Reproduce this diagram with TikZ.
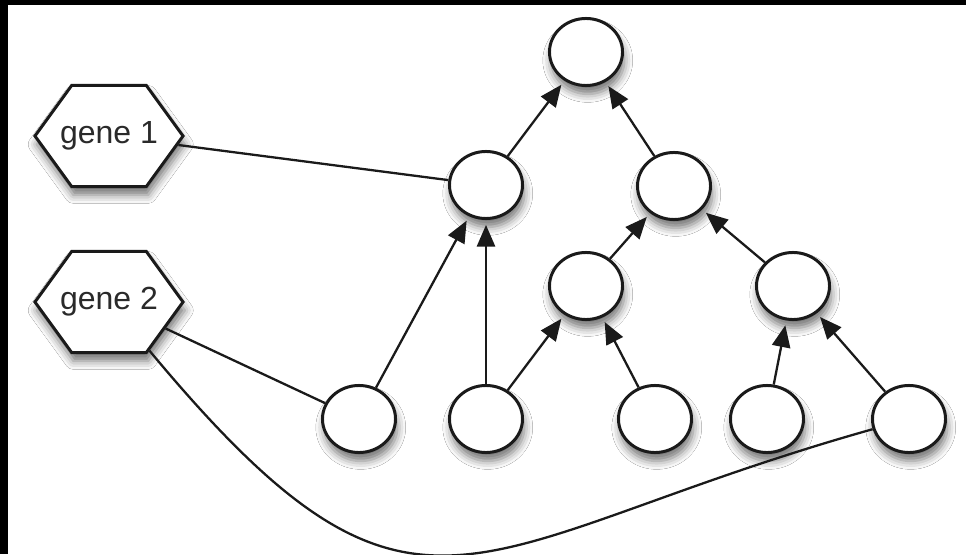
\documentclass[tikz,border=0pt]{standalone}
\usepackage{fontspec}
\setmainfont{Liberation Sans}
\usepackage{tikz}
\usepackage{xcolor}
\usetikzlibrary{arrows.meta,shapes.geometric,shapes.symbols,shadows.blur}
\definecolor{ink}{HTML}{1A1A1A}
\definecolor{labelink}{HTML}{2A2A2A}
\tikzset{
  softshadow/.style={blur shadow={shadow xshift=0.5pt,shadow yshift=-2.4pt,
                     shadow blur radius=2.4pt,shadow opacity=55}},
  varnode/.style={ellipse,draw=ink,fill=white,line width=0.85pt,
                  minimum width=0.73cm,minimum height=0.67cm,inner sep=0pt,
                  softshadow},
  genenode/.style={signal,signal to=east and west,signal pointer angle=108,
                   draw=ink,fill=white,line width=0.85pt,
                   minimum width=1.48cm,minimum height=1.01cm,
                   inner xsep=-0.13cm,inner ysep=0pt,
                   text=labelink,font=\fontsize{9.1}{11}\selectfont,softshadow},
  dirarr/.style={-{Triangle[length=6.2pt,width=5.2pt]},line width=0.65pt,
                 draw=ink,shorten >=1.4pt},
  plainlink/.style={line width=0.65pt,draw=ink}
}

\begin{document}
\begin{tikzpicture}[x=0.01cm,y=0.01cm]
    \path[use as bounding box] (0,0) rectangle (966,554);
    \fill[black] (0,0) rectangle (966,554);
    \fill[white] (8,0) rectangle (966,549);

    \node[genenode] (gene1) at (109,418) {gene 1};
    \node[genenode] (gene2) at (109,252) {gene 2};

    \node[varnode] (root) at (586,502) {};
    \node[varnode] (pa) at (486,369) {};
    \node[varnode] (pb) at (674,368) {};
    \node[varnode] (pc) at (586,268) {};
    \node[varnode] (pd) at (793,268) {};
    \node[varnode] (x1) at (359,135) {};
    \node[varnode] (x2) at (486,135) {};
    \node[varnode] (x3) at (655,135) {};
    \node[varnode] (x4) at (767,135) {};
    \node[varnode] (x5) at (909,135) {};

    \draw[dirarr] (pa) -- (root);
    \draw[dirarr] (pb) -- (root);
    \draw[dirarr] (pc) -- (pb);
    \draw[dirarr] (pd) -- (pb);
    \draw[dirarr] (x1) -- (pa);
    \draw[dirarr] (x2) -- (pa);
    \draw[dirarr] (x2) -- (pc);
    \draw[dirarr] (x3) -- (pc);
    \draw[dirarr] (x4) -- (pd);
    \draw[dirarr] (x5) -- (pd);

    \draw[plainlink] (gene1) -- (pa);
    \draw[plainlink] (gene2) -- (x1);
    \draw[plainlink] (gene2) .. controls (420,-122) and (464,10) .. (x5);
  \end{tikzpicture}
\end{document}
